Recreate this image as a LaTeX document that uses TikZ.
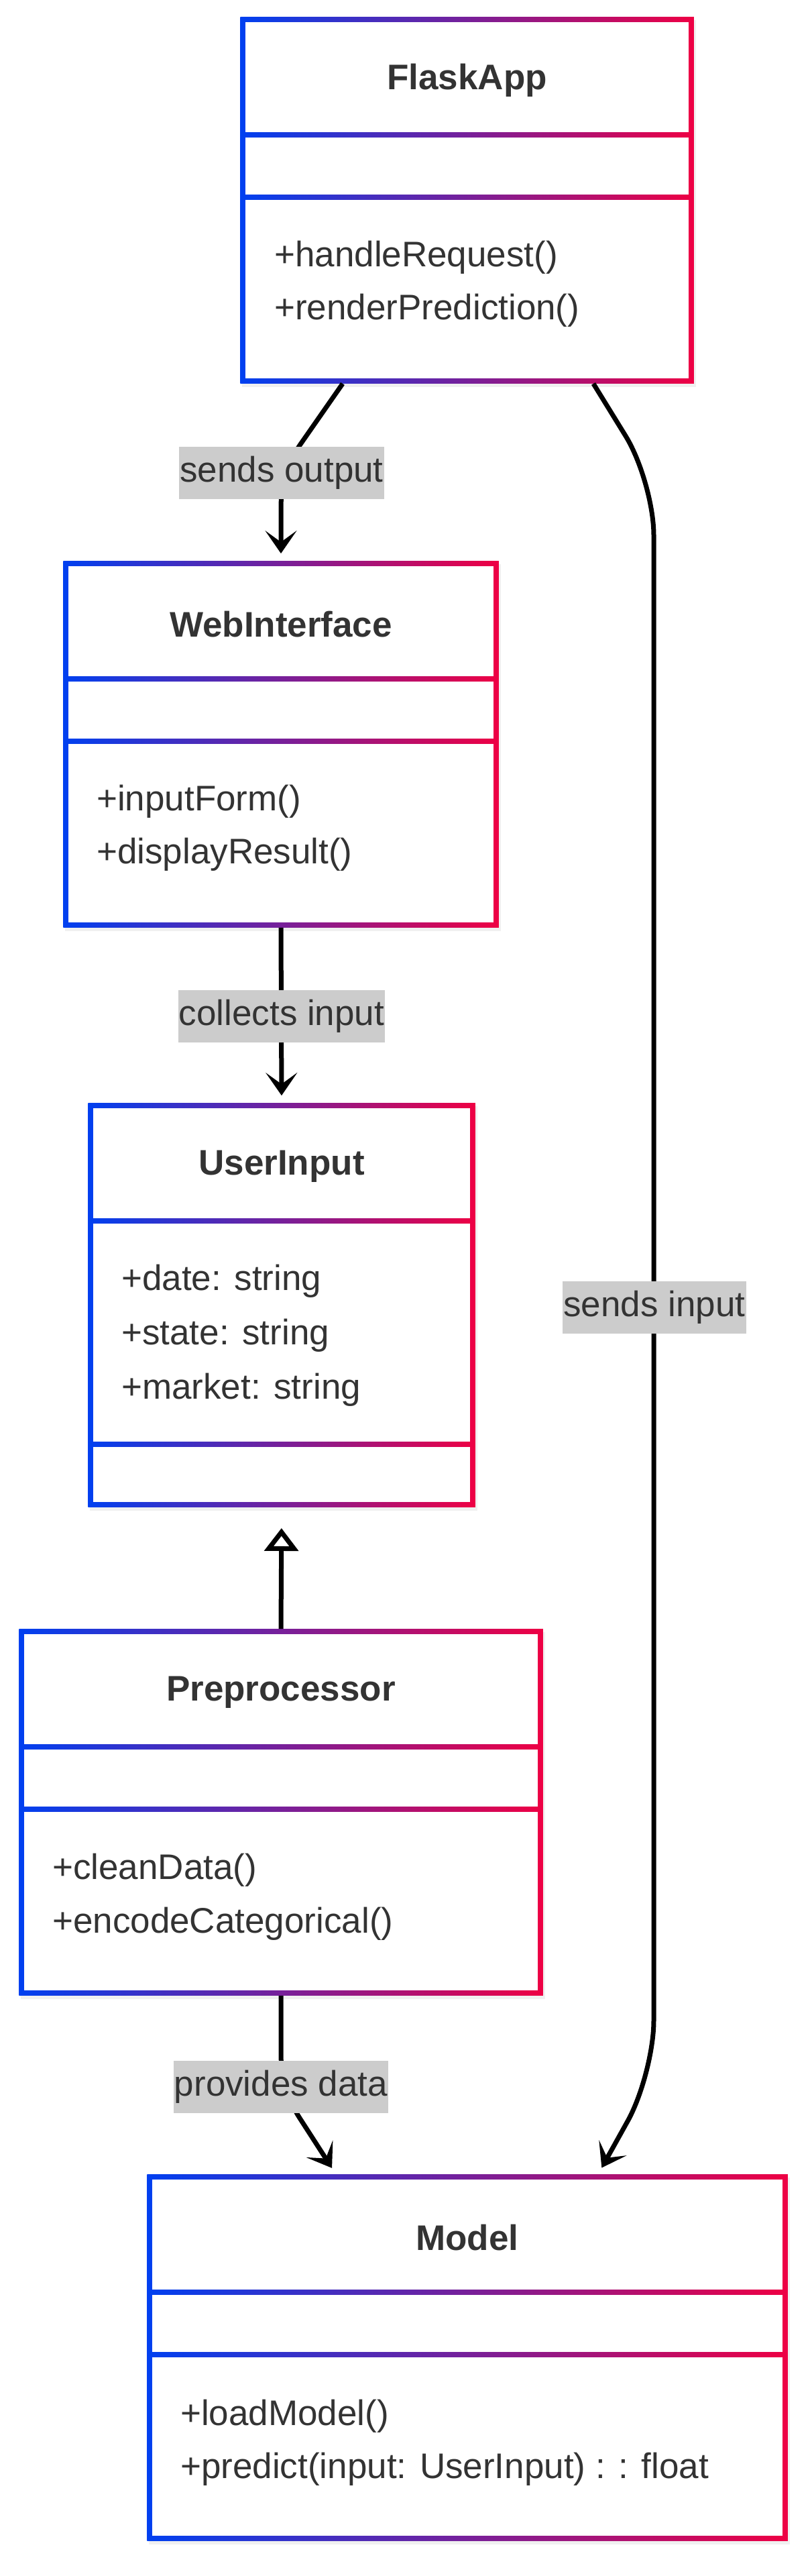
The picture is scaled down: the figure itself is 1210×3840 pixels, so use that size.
\documentclass[tikz,border=0pt]{standalone}
\usepackage{fontspec}
\setmainfont{Liberation Sans}
\usepackage{tikz}
\usepackage{xcolor}
\usetikzlibrary{calc,positioning,arrows.meta,fit,shadows}

\definecolor{umlblue}{RGB}{0,64,240}
\definecolor{umlred}{RGB}{238,0,68}
\definecolor{umlink}{RGB}{51,51,51}
\definecolor{umllabel}{RGB}{204,204,204}
\newcommand{\umlfont}{\fontsize{53}{64}\selectfont}

\tikzset{
	classframe/.style={inner sep=3.75pt, left color=umlblue, right color=umlred, drop shadow={shadow xshift=3pt, shadow yshift=-5pt, opacity=.12}},
	classtitle/.style={font=\umlfont\bfseries, text=umlink},
	member/.style={anchor=west, inner sep=0pt, font=\umlfont, text=umlink},
	link/.style={line width=7pt, -{Stealth[length=34pt,width=47pt,inset=17pt]}, shorten >=11pt},
	generalization/.style={line width=7pt, -{Triangle[open,length=34pt,width=50pt]}, shorten >=31pt},
	edgelabel/.style={fill=umllabel, text=umlink, font=\umlfont, inner xsep=1pt, inner ysep=0pt, minimum height=78pt},
}

% name, left, top, right, bottom, first divider, second divider, title
\newcommand{\umlclass}[8]{
	\node[classframe, fit={(#2,#3) (#4,#5)}] (#1) {};
	\fill[white] (#2+3.75,#3+3.75) rectangle (#4-3.75,#6-3.75);
	\fill[white] (#2+3.75,#6+3.75) rectangle (#4-3.75,#7-3.75);
	\fill[white] (#2+3.75,#7+3.75) rectangle (#4-3.75,#5-3.75);
	\node[classtitle] (#1-title) at ({(#2+#4)/2},#3+91) {#8};
}

\begin{document}
\begin{tikzpicture}[x=1pt,y=-1pt]
			\useasboundingbox (0,0) rectangle (1210,3840);

			\umlclass{flask}{362}{29}{1031}{568}{201}{294}{FlaskApp}
				\node[member] (flask-m1) at (409,384){+handleRequest()};
				\node[member] (flask-m2) at (409,463){+renderPrediction()};

			\umlclass{web}{98}{840}{740}{1379}{1012}{1105}{WebInterface}
				\node[member] (web-m1) at (144,1195){+inputForm()};
				\node[member] (web-m2) at (144,1274){+displayResult()};

			\umlclass{input}{135}{1648}{705}{2243}{1820}{2153}{UserInput}
				\node[member] (input-a1) at (181,1910){+date: string};
				\node[member] (input-a2) at (181,1991){+state: string};
				\node[member] (input-a3) at (181,2072){+market: string};

			\umlclass{prep}{32}{2432}{806}{2971}{2604}{2697}{Preprocessor}
				\node[member] (prep-m1) at (78,2788){+cleanData()};
				\node[member] (prep-m2) at (78,2868){+encodeCategorical()};

			\umlclass{model}{223}{3245}{1171}{3784}{3417}{3510}{Model}
				\node[member] (model-m1) at (269,3602){+loadModel()};
				\node[member] (model-m2) at (269,3681){+predict(input: UserInput) : : float};

			\coordinate (bendout) at (419,704);
			\coordinate (bendin1) at (975,718);
			\coordinate (bendin2) at (975,3092);
			\coordinate (benddata) at (419,3114);

			\draw[link, rounded corners=50pt] ([xshift=-185.5pt]flask.south) -- (bendout) -- (web.north);
			\draw[link, rounded corners=80pt] ([xshift=188.5pt]flask.south) -- (bendin1) -- (bendin2) -- ([xshift=195pt]model.north);
			\draw[link] (web.south) -- (input.north);
			\draw[generalization] (prep.north) -- (input.south);
			\draw[link, rounded corners=50pt] (prep.south) -- (benddata) -- ([xshift=-196pt]model.north);

			\node[edgelabel] (lbl-output) at (420,705){sends output};
			\node[edgelabel] (lbl-collect) at (420,1515){collects input};
			\node[edgelabel] (lbl-send) at (976,1949){sends input};
			\node[edgelabel] (lbl-data) at (419,3111){provides data};
\end{tikzpicture}
\end{document}
